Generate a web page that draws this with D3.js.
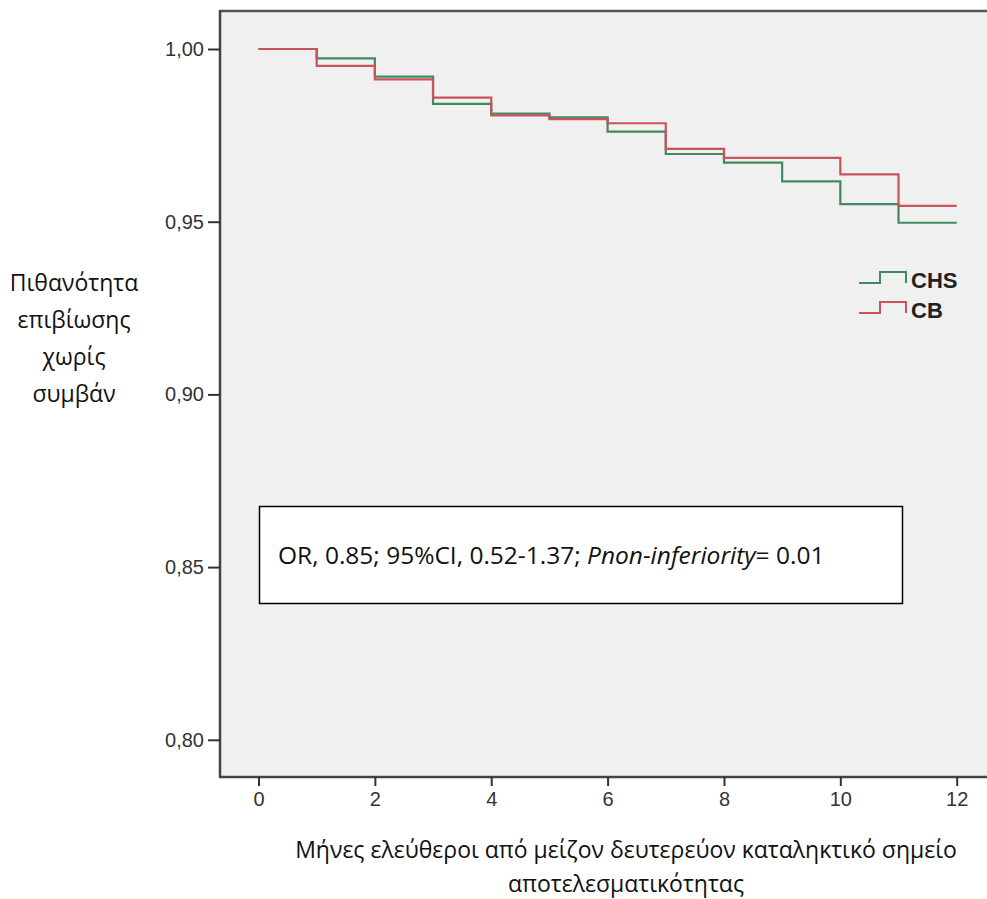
<!DOCTYPE html>
<html>
<head>
<meta charset="utf-8">
<script src="https://cdn.jsdelivr.net/npm/d3@7.9.0/dist/d3.min.js"></script>
<style>
  body { margin: 0; background: #fff; }
  svg { display: block; }
</style>
</head>
<body>
<svg width="987" height="899"></svg>
<script>
// months 0..12 (last point just carries the curve to the end)
const months = [0, 1, 2, 3, 4, 5, 6, 7, 8, 9, 10, 11, 12];
const chs = [1.0, 0.9973, 0.9920, 0.9841, 0.9813, 0.9802, 0.9761, 0.9696, 0.9671, 0.9617, 0.9551, 0.9497, 0.9497];
const cb  = [1.0, 0.9951, 0.9912, 0.9859, 0.9808, 0.9797, 0.9785, 0.9711, 0.9685, 0.9685, 0.9637, 0.9546, 0.9546];
const seriesNames = ['CHS', 'CB'];
const yTicks = [0.80, 0.85, 0.90, 0.95, 1.00];
const xTicks = [0, 2, 4, 6, 8, 10, 12];
const yTitle = ['Πιθανότητα', 'επιβίωσης', 'χωρίς', 'συμβάν'];
const xTitle = ['Μήνες ελεύθεροι από μείζον δευτερεύον καταληκτικό σημείο', 'αποτελεσματικότητας'];

const colors = {CHS: '#3f8a5f', CB: '#c9525c'};
const textFont = '"Open Sans", "Noto Sans", sans-serif';
const axisFont = '"Liberation Sans Narrow", "Liberation Sans", Arial, sans-serif';

const svg = d3.select('svg');

let x = d3.scaleLinear().domain([0, 12]).range([258.5, 956.7]);
let y = d3.scaleLinear().domain([0.80, 1.00]).range([739.8, 49]);

// plot background
svg.append('rect')
  .attr('x', 220).attr('y', 11)
  .attr('width', 767).attr('height', 766)
  .attr('fill', '#f0f0f0');

svg.append('line')
  .attr('x1', 219).attr('x2', 987).attr('y1', 11).attr('y2', 11)
  .attr('stroke', '#555').attr('stroke-width', 2.5);

// axes
let yAxis = d3.axisLeft(y).tickValues(yTicks).tickSize(12).tickPadding(4)
  .tickFormat(d => d3.format('.2f')(d).replace('.', ','));
let gy = svg.append('g').attr('transform', 'translate(220,0)').call(yAxis);
gy.select('.domain').attr('d', 'M0,10V778').attr('stroke', '#444').attr('stroke-width', 2.5);

let xAxis = d3.axisBottom(x).tickValues(xTicks).tickSize(9).tickPadding(6);
let gx = svg.append('g').attr('transform', 'translate(0,777)').call(xAxis);
gx.select('.domain').attr('d', 'M219,0H987').attr('stroke', '#444').attr('stroke-width', 2.5);

[gx, gy].forEach(g => {
  g.selectAll('.tick line').attr('stroke', '#333').attr('stroke-width', 2);
  g.selectAll('.tick text')
    .attr('fill', '#333')
    .style('font-family', axisFont)
    .style('font-size', '20px');
});

// survival curves
let line = d3.line().curve(d3.curveStepAfter)
  .x((d, i) => x(months[i]))
  .y(d => y(d));

[['CHS', chs], ['CB', cb]].forEach(([name, vals]) => {
  svg.append('path')
    .attr('d', line(vals))
    .attr('fill', 'none')
    .attr('stroke', colors[name])
    .attr('stroke-width', 2.2);
});

// legend
seriesNames.forEach((name, i) => {
  let ly = 283 + i * 30;
  svg.append('path')
    .attr('d', `M859,${ly}H880V${ly - 11}H906V${ly}`)
    .attr('fill', 'none')
    .attr('stroke', colors[name])
    .attr('stroke-width', 2);
  svg.append('text')
    .attr('x', 911).attr('y', ly + 5)
    .attr('fill', '#222')
    .style('font-family', axisFont)
    .style('font-weight', 'bold')
    .style('font-size', '22px')
    .text(name);
});

// annotation box
svg.append('rect')
  .attr('x', 259.5).attr('y', 506.5)
  .attr('width', 643).attr('height', 97)
  .attr('fill', '#fff')
  .attr('stroke', '#000').attr('stroke-width', 1.5);

let ann = svg.append('text')
  .attr('x', 278).attr('y', 564)
  .attr('fill', '#111')
  .style('font-family', textFont)
  .style('font-size', '24.5px');
ann.append('tspan').text('OR, 0.85; 95%CI, 0.52-1.37; ');
ann.append('tspan').style('font-style', 'italic').text('Pnon-inferiority');
ann.append('tspan').text('= 0.01');

// axis titles
svg.append('g').selectAll('text')
  .data(yTitle)
  .join('text')
  .attr('x', 74)
  .attr('y', (d, i) => 291 + i * 37)
  .attr('text-anchor', 'middle')
  .attr('fill', '#111')
  .style('font-family', textFont)
  .style('font-size', '23px')
  .text(d => d);

svg.append('g').selectAll('text')
  .data(xTitle)
  .join('text')
  .attr('x', 626)
  .attr('y', (d, i) => 858 + i * 34)
  .attr('text-anchor', 'middle')
  .attr('fill', '#111')
  .style('font-family', textFont)
  .style('font-size', '23px')
  .text(d => d);
</script>
</body>
</html>
